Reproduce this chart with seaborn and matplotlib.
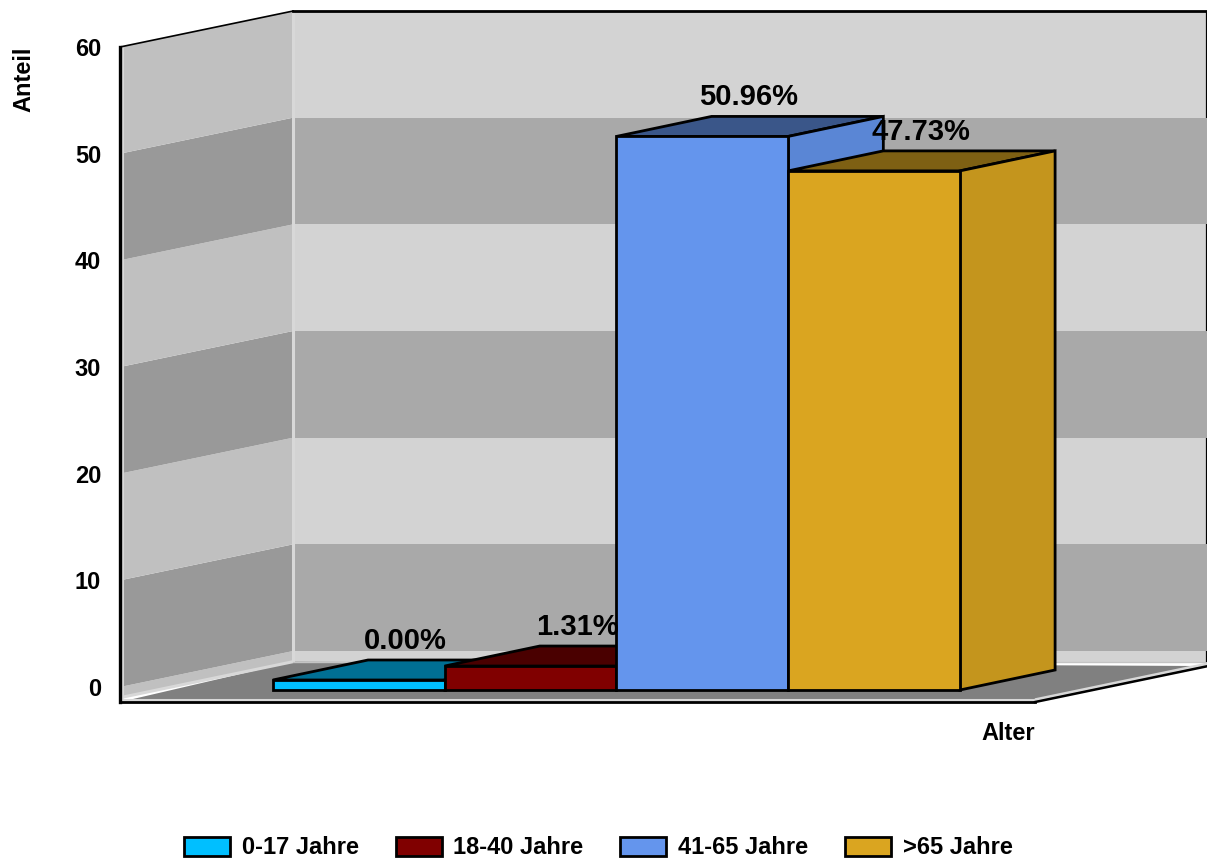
import numpy as np
import pandas as pd
import seaborn as sns
import matplotlib.pyplot as plt
from matplotlib.colors import to_rgb
from matplotlib.patches import Patch, Polygon

categories = ['0-17 Jahre', '18-40 Jahre', '41-65 Jahre', '>65 Jahre']
values = [0.00, 1.31, 50.96, 47.73]
bar_colors = ['#00BFFF', '#800000', '#6495ED', '#DAA520']
y_ticks = [0, 10, 20, 30, 40, 50, 60]

# fake 3D geometry, in data units (1 category = 171.6 px, 1 unit = 10.67 px)
WALL_DX, WALL_DY = 1.008, 3.375
BAR_DX, BAR_DY = 0.554, 1.875
BAR_LIFT = 0.656
BAR_BASE = -0.28
FLOOR = -1.0
FRONT = -1.41
XMIN, XMAX = -1.39, 3.937
FS = 17
EDGE = 2.0

sns.set_theme(style="white")
plt.rcParams['font.family'] = ['Liberation Sans', 'DejaVu Sans']
plt.rcParams['font.weight'] = 'bold'

fig = plt.figure(figsize=(12.07, 8.64), dpi=100)
ax = fig.add_axes([120 / 1207, 1 - 687 / 864, 915 / 1207, 640 / 864])

df = pd.DataFrame({'Alter': categories, 'Anteil': values})
heights = df['Anteil'] + BAR_LIFT - BAR_BASE

sns.barplot(x=df['Alter'], y=heights, hue=df['Alter'], palette=bar_colors, width=1, saturation=1,
            dodge=False, legend=False, bottom=BAR_BASE, edgecolor='black', linewidth=EDGE,
            ax=ax, clip_on=False)


def shade(color, factor):
    return tuple(c * factor for c in to_rgb(color))


def add_poly(pts, color, z, edge='none', lw=0):
    ax.add_patch(Polygon(pts, closed=True, facecolor=color, edgecolor=edge, linewidth=lw,
                         zorder=z, clip_on=False, joinstyle='miter'))


# walls: one band per y tick interval, light at the top
edges = [FLOOR] + y_ticks
for i in range(len(edges) - 1):
    lo, hi = edges[i], edges[i + 1]
    light = i % 2 == 0
    add_poly([(XMIN, lo), (XMIN + WALL_DX, lo + WALL_DY), (XMIN + WALL_DX, hi + WALL_DY), (XMIN, hi)],
             '#C0C0C0' if light else '#999999', 1)
    add_poly([(XMIN + WALL_DX, lo + WALL_DY), (XMAX + WALL_DX, lo + WALL_DY),
              (XMAX + WALL_DX, hi + WALL_DY), (XMIN + WALL_DX, hi + WALL_DY)],
             '#D3D3D3' if light else '#A9A9A9', 1)
    # the light bands have a black end at the right image border
    if light:
        ax.plot([XMAX + WALL_DX - 0.006] * 2, [lo + WALL_DY, hi + WALL_DY], color='black', lw=1.6,
                zorder=1.6, clip_on=False, solid_capstyle='butt')

# floor
add_poly([(XMIN, FRONT), (XMAX, FRONT), (XMAX + WALL_DX, FRONT + WALL_DY), (XMIN + WALL_DX, FLOOR + WALL_DY)],
         '#808080', 1.2)

# light inner edges of the box
light_edge = dict(color='#D8D8D8', lw=2.2, zorder=1.5, clip_on=False, solid_capstyle='butt')
ax.plot([XMIN + WALL_DX, XMIN + WALL_DX], [FLOOR + WALL_DY, 60 + WALL_DY], **light_edge)
ax.plot([XMIN + 0.012, XMIN + 0.012], [FLOOR, 60], **light_edge)
ax.plot([XMIN, XMIN + WALL_DX], [FLOOR, FLOOR + WALL_DY], **light_edge)
ax.plot([XMIN, XMAX], [-1.2, -1.2], **light_edge)
ax.plot([XMAX, XMAX + WALL_DX], [-1.2, -1.2 + WALL_DY], **light_edge)
ax.plot([XMIN + WALL_DX, XMAX + WALL_DX], [FLOOR + WALL_DY, FLOOR + WALL_DY], lw=1, color='#C4C4C4',
        zorder=1.5, clip_on=False)

# dark outline of the box
dark_edge = dict(color='black', zorder=1.6, clip_on=False, solid_capstyle='projecting')
ax.plot([XMIN, XMIN + WALL_DX], [60, 60 + WALL_DY], lw=1.2, **dark_edge)
ax.plot([XMIN + WALL_DX, XMAX + WALL_DX], [60 + WALL_DY, 60 + WALL_DY], lw=2, **dark_edge)
ax.plot([XMAX, XMAX + WALL_DX], [FRONT, FRONT + WALL_DY], lw=1.8, **dark_edge)

# bars: side and top faces come from the drawn front faces
for i, bar in enumerate(ax.patches[:len(categories)]):
    x0, x1 = bar.get_x(), bar.get_x() + bar.get_width()
    y0, y1 = bar.get_y(), bar.get_y() + bar.get_height()
    color = bar_colors[i]
    z = 3 + i
    add_poly([(x0, y1), (x1, y1), (x1 + BAR_DX, y1 + BAR_DY), (x0 + BAR_DX, y1 + BAR_DY)],
             shade(color, 0.58), z, 'black', EDGE)
    add_poly([(x1, y0), (x1 + BAR_DX, y0 + BAR_DY), (x1 + BAR_DX, y1 + BAR_DY), (x1, y1)],
             shade(color, 0.9), z, 'black', EDGE)
    bar.set_zorder(z + 0.5)
    ax.text((x0 + x1) / 2 + BAR_DX / 2 - 0.005, values[i] + BAR_LIFT + BAR_DY + 1.8, f'{values[i]:.2f}%',
            ha='center', va='center', fontsize=21, fontweight='bold', color='black', zorder=10)

ax.set_xlim(XMIN, XMAX)
ax.set_ylim(0, 60)
ax.set_xticks([])
ax.set_yticks(y_ticks)
ax.tick_params(axis='y', length=0, pad=13.5, labelsize=FS, labelcolor='black')
for lab in ax.get_yticklabels():
    lab.set_fontweight('bold')

ax.set_xlabel('Alter', loc='right', fontsize=FS, fontweight='bold', color='black', va='center')
ax.xaxis.set_label_coords(1.0, -46 / 640)
ax.set_ylabel('Anteil', loc='top', fontsize=FS, fontweight='bold', color='black', va='center')
ax.yaxis.set_label_coords(-96 / 915, 1.0)

ax.patch.set_visible(False)
ax.spines['top'].set_visible(False)
ax.spines['right'].set_visible(False)
ax.spines['left'].set_bounds(FRONT, 60)
ax.spines['left'].set_linewidth(2.4)
ax.spines['left'].set_color('black')
ax.spines['bottom'].set_position(('data', FRONT))
ax.spines['bottom'].set_linewidth(2)
ax.spines['bottom'].set_color('black')

handles = [Patch(facecolor=c, edgecolor='black', linewidth=EDGE, label=n)
           for c, n in zip(bar_colors, categories)]
fig.legend(handles=handles, loc='center', bbox_to_anchor=(0.4957, 1 - 848 / 864), ncol=4, frameon=False,
           fontsize=FS, handlelength=1.95, handleheight=0.85, handletextpad=0.5, columnspacing=1.55,
           labelcolor='black', borderpad=0)

fig.savefig('out.png', dpi=100)
